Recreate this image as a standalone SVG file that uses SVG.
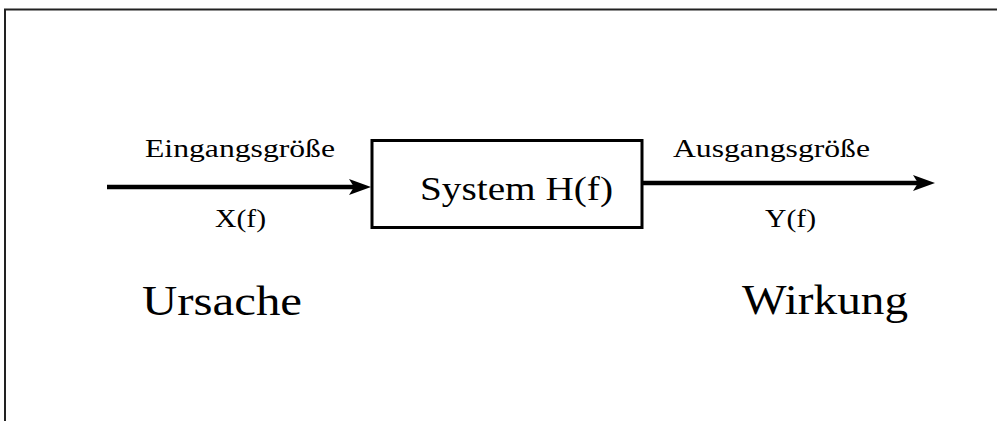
<svg xmlns="http://www.w3.org/2000/svg" width="997" height="421" viewBox="0 0 997 421">
<style>
text{font-family:"Liberation Serif","Times New Roman",serif;fill:#000}
.s{font-size:25px}
.b{font-size:42px}
.ln{stroke:#000;stroke-width:4.5;fill:none}
</style>
<rect width="997" height="421" fill="#fff"/>
<g id="frame">
<path d="M5,421 V9.5 H997" stroke="#222" stroke-width="2" fill="none"/>
</g>
<g id="connectors">
<g id="input-arrow">
<line class="ln" x1="107" y1="187" x2="356" y2="187"/>
<polygon points="371,187 349,179 354,187 349,195" fill="#000"/>
</g>
<g id="output-arrow">
<line class="ln" x1="643" y1="183" x2="920" y2="183"/>
<polygon points="935,183 913,175 918,183 913,191" fill="#000"/>
</g>
</g>
<g id="system">
<rect x="372" y="140.5" width="270" height="87" fill="none" stroke="#000" stroke-width="3"/>
<text x="420" y="200" font-size="33" textLength="193" lengthAdjust="spacingAndGlyphs">System H(f)</text>
</g>
<g id="input-labels">
<text class="s" x="145" y="157" textLength="190" lengthAdjust="spacingAndGlyphs">Eingangsgröße</text>
<text class="s" x="215" y="227" textLength="51" lengthAdjust="spacingAndGlyphs">X(f)</text>
</g>
<g id="output-labels">
<text class="s" x="673" y="157" textLength="197" lengthAdjust="spacingAndGlyphs">Ausgangsgröße</text>
<text class="s" x="765" y="227" textLength="51" lengthAdjust="spacingAndGlyphs">Y(f)</text>
</g>
<g id="ursache">
<text class="b" x="142" y="315" textLength="160" lengthAdjust="spacingAndGlyphs">Ursache</text>
</g>
<g id="wirkung">
<text class="b" x="742" y="314" textLength="166" lengthAdjust="spacingAndGlyphs">Wirkung</text>
</g>
</svg>
